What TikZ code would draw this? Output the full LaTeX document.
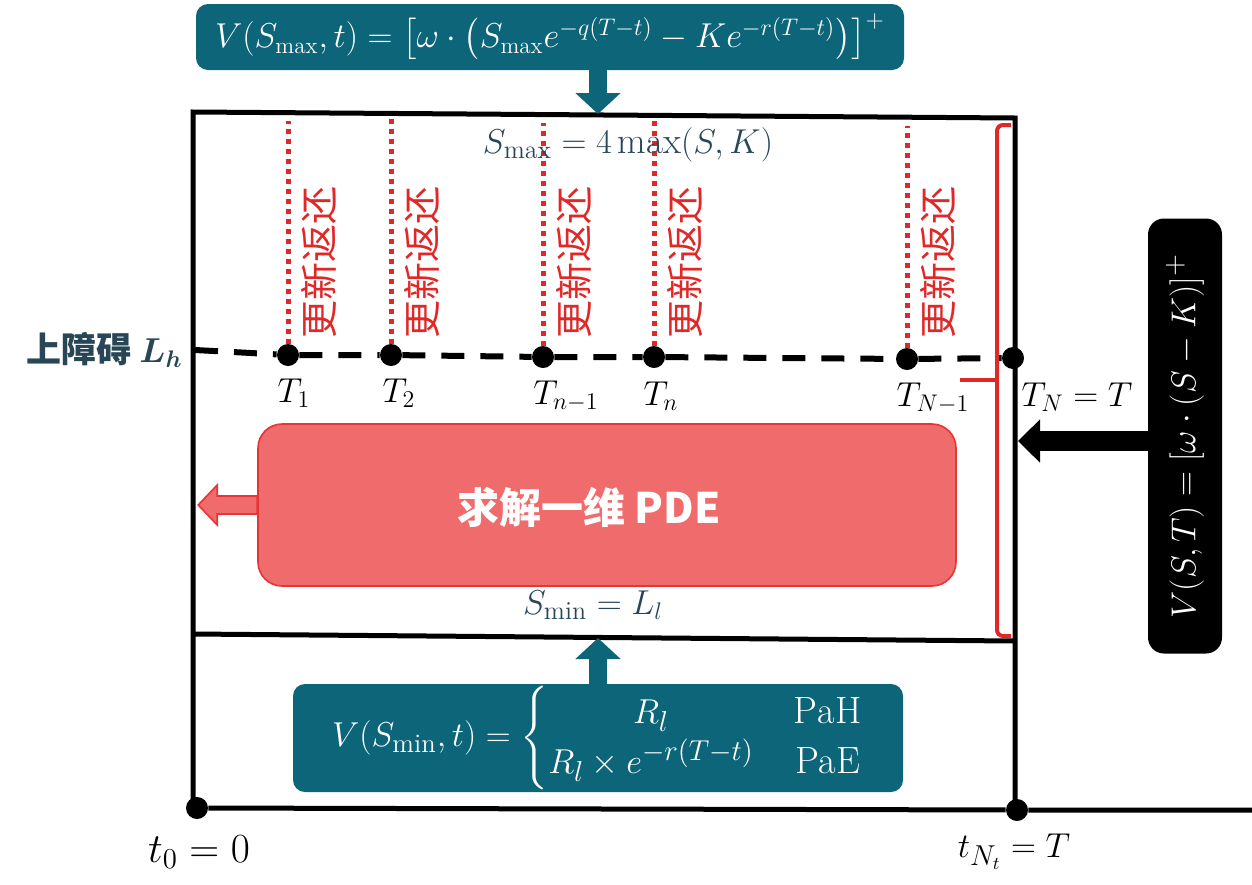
\documentclass[tikz,border=0pt]{standalone}
\usepackage{amsmath}
\usepackage{fontspec}
\newfontfamily\cjk{Noto Sans CJK SC}
\usetikzlibrary{arrows.meta}

\definecolor{boxteal}{RGB}{12,101,120}
\definecolor{labelslate}{RGB}{40,70,86}
\definecolor{updred}{RGB}{224,40,40}
\definecolor{pdefill}{RGB}{240,107,107}
\definecolor{pdeedge}{RGB}{232,52,52}

\newcommand{\fsz}[1]{\fontsize{#1}{#1}\selectfont}

\begin{document}
\begin{tikzpicture}[x=0.5pt,y=-0.5pt,
    frame/.style={line width=2.5pt},
    barrier/.style={line width=3pt,dash pattern=on 11.5pt off 8pt},
    tdot/.style={circle,fill=black,inner sep=0pt,minimum size=11pt},
    upd/.style={updred,line width=2.5pt,dash pattern=on 2.5pt off 2.5pt},
    updtext/.style={rotate=90,text=updred,font=\cjk\fsz{19},inner sep=0pt},
    tlabel/.style={font=\fsz{18},inner sep=0pt},
    slabel/.style={text=labelslate,font=\fsz{18.5},inner sep=0pt},
    tealbox/.style={fill=boxteal,text=white,rounded corners=6pt,inner sep=0pt},
    tealarrow/.style={boxteal,line width=9pt,-{Triangle[width=22pt,length=10.5pt]}},
    blackarrow/.style={line width=10pt,-{Triangle[width=21pt,length=11pt]}},
    pdebox/.style={fill=pdefill,draw=pdeedge,line width=0.8pt,rounded corners=12pt,
        minimum width=349pt,minimum height=81pt,inner sep=0pt},
  ]
    \useasboundingbox (0,0) rectangle (1252,884);

    % Boundary formulas
    \node[tealbox,minimum width=354pt,minimum height=33pt,font=\fsz{16.5}] (vmax) at (550,37)
        {$V(S_{\max},t)=\bigl[\omega\cdot\bigl(S_{\max}e^{-q(T-t)}-Ke^{-r(T-t)}\bigr)\bigr]^{+}$};
    \node[tealbox,minimum width=305pt,minimum height=54pt,font=\fontsize{19}{25}\selectfont] (vmin) at (598,738)
        {$V(S_{\min},t)=\left\{\begin{array}{@{}c@{\hspace{20pt}}c@{}}
            R_l & \mathrm{PaH}\\
            R_l\times e^{-r(T-t)} & \mathrm{PaE}
        \end{array}\right.$};
    \node[fill=black,text=white,rotate=90,rounded corners=8pt,inner sep=0pt,
        minimum width=217.5pt,minimum height=37pt,font=\fsz{19}] (payoff) at (1185,436)
        {$V(S,T)=[\omega\cdot(S-K)]^{+}$};

    % Time points
    \node[tdot] (t1)  at (288,355) {};
    \node[tdot] (t2)  at (391,355) {};
    \node[tdot] (tnm) at (543,357) {};
    \node[tdot] (tn)  at (654,357) {};
    \node[tdot] (tNm) at (907,359) {};
    \node[tdot] (tN)  at (1013,358) {};
    \node[tdot] (t0)  at (197,808) {};
    \node[tdot] (tNt) at (1017,810) {};

    % Frame
    \coordinate (lh) at (195,350);
    \coordinate (axend) at (1252,810);
    \coordinate (smax) at (598,114);
    \coordinate (smin) at (598,638);
    \coordinate (pend) at (1018,441);
    \draw[frame] (193,808) -- (193,112) -- (1015,118) -- (1015,810);
    \draw[frame] (193,634) -- (1015,641);
    \draw[frame] (t0) -- (tNt) -- (axend);
    \draw[barrier] (lh) -- (t1) -- (t2) -- (tnm) -- (tn) -- (tNm) -- (tN);

    % Update lines
    \foreach \d/\top in {t1/121,t2/114,tnm/123,tn/120,tNm/126}{
        \draw[upd] (\d.north) -- (\d.north |- 0,\top);
        \node[updtext] (u\d) at ([xshift=15.5pt]\d.north |- 0,262) {更新返还};
    }
    \draw[updred,line width=2pt,rounded corners=3pt] (1011,125) -- (997,125) -- (997,636) -- (1011,636);
    \draw[updred,line width=2pt] (997,380) -- (960,380);

    % Arrows
    \draw[tealarrow] (smax |- vmax.south) -- (smax);
    \draw[tealarrow] (smin |- vmin.north) -- (smin);
    \draw[blackarrow] (payoff.north |- pend) -- (pend);

    % PDE block
    \node[pdebox] (pde) at (607,505) {};
    \node[text=white,font=\cjk\bfseries\fsz{21},inner sep=0pt] (pdelabel) at (589,507) {求解一维 PDE};
    \draw[pdeedge,fill=pdefill,line width=0.8pt] (pde.west) ++(0,-9) -- ++(-40,0) -- ++(0,-11)
        -- ++(-19,20) -- ++(19,20) -- ++(0,-11) -- ++(40,0) -- cycle;

    % Labels
    \node[anchor=east,text=labelslate,font=\cjk\bfseries\fsz{17.5},inner sep=0pt] (lhlabel)
        at ([xshift=-6pt]lh) {上障碍 $\boldsymbol{L}_{\boldsymbol{h}}$};
    \node[slabel] (smaxlabel) at (628,145) {$S_{\max}=4\max(S,K)$};
    \node[slabel] (sminlabel) at (593,605) {$S_{\min}=L_l$};
    \node[tlabel] (lt1)  at (294,393) {$T_1$};
    \node[tlabel] (lt2)  at (399,393) {$T_2$};
    \node[tlabel] (ltnm) at (566,396) {$T_{n-1}$};
    \node[tlabel] (ltn)  at (661,396) {$T_n$};
    \node[tlabel] (ltNm) at (933,398) {$T_{N-1}$};
    \node[tlabel] (ltN)  at (1077,397) {$T_N=T$};
    \node[tlabel,font=\fsz{20.5}] (lt0)  at (199,852) {$t_0=0$};
    \node[tlabel,font=\fsz{19}] (ltNt) at (1014,852) {$t_{N_t}=T$};
\end{tikzpicture}
\end{document}
